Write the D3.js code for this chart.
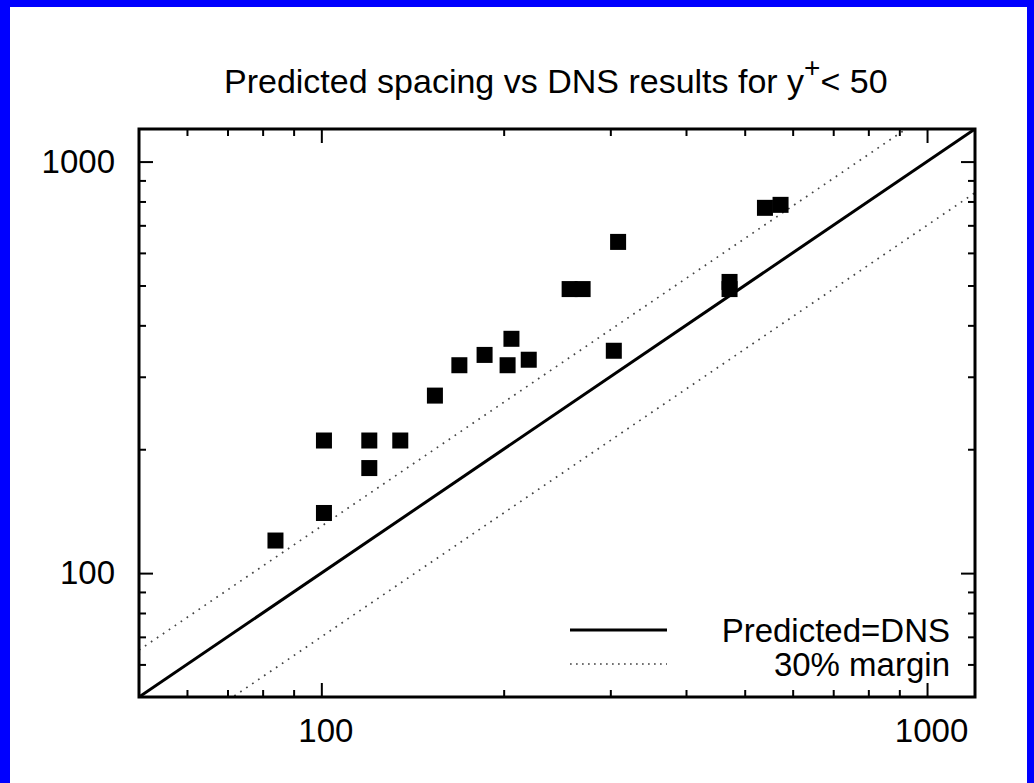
<!DOCTYPE html>
<html>
<head>
<meta charset="utf-8">
<script src="https://cdn.jsdelivr.net/npm/d3@7"></script>
<style>
  body { margin: 0; background: #fff; }
  svg { display: block; }
</style>
</head>
<body>
<div id="chart"></div>
<script>
// DNS spacing (x) against predicted spacing (y), y+ < 50
const dnsSpacing = [84, 101, 101, 120, 120, 135, 154, 169, 186, 203, 206, 220, 257, 270, 304, 309, 472, 472, 540, 573];
const predictedSpacing = [120, 140, 210, 210, 180, 210, 270, 320, 339, 320, 371, 330, 490, 490, 347, 638, 510, 490, 772, 785];

const majorTicks = [100, 1000];
const minorTicks = [60, 70, 80, 90, 200, 300, 400, 500, 600, 700, 800, 900];

// reference lines: predicted = factor * DNS
const refFactors = [1, 1.3, 0.7];
const legendLabels = ["Predicted=DNS", "30% margin"];

const width = 1034, height = 783;
const margin = {top: 129, right: 59, bottom: 86, left: 139};
const font = "'Liberation Sans', Arial, sans-serif";

const svg = d3.select("#chart").append("svg")
    .attr("width", width)
    .attr("height", height)
    .attr("font-family", font);

// blue page frame
svg.append("rect").attr("width", width).attr("height", height).attr("fill", "#0000ff");
svg.append("rect")
    .attr("x", 10).attr("y", 7)
    .attr("width", width - 17).attr("height", height - 7)
    .attr("fill", "#fff");

const x = d3.scaleLog()
    .domain([50, 1200])
    .range([margin.left, width - margin.right]);

const y = d3.scaleLog()
    .domain([50, 1200])
    .range([height - margin.bottom, margin.top]);

svg.append("clipPath").attr("id", "plot-clip")
  .append("rect")
    .attr("x", x.range()[0]).attr("y", y.range()[1])
    .attr("width", x.range()[1] - x.range()[0])
    .attr("height", y.range()[0] - y.range()[1]);

// reference lines
const [d0, d1] = x.domain();
const line = d3.line().x(d => x(d[0])).y(d => y(d[1]));

svg.append("g")
    .attr("clip-path", "url(#plot-clip)")
  .selectAll("path")
  .data(refFactors)
  .join("path")
    .attr("d", f => line([[d0, d0 * f], [d1, d1 * f]]))
    .attr("fill", "none")
    .attr("stroke", f => f === 1 ? "#000" : "#444")
    .attr("stroke-width", f => f === 1 ? 3 : 1.7)
    .attr("stroke-dasharray", f => f === 1 ? null : "1.7,5.5");

// data points
const sz = 16;
svg.append("g")
  .selectAll("rect")
  .data(dnsSpacing)
  .join("rect")
    .attr("x", (d, i) => x(d) - sz / 2)
    .attr("y", (d, i) => y(predictedSpacing[i]) - sz / 2)
    .attr("width", sz)
    .attr("height", sz)
    .attr("fill", "#000");

// axes: ticks on all four sides, pointing inward
function styleAxis(g) {
  g.select(".domain").remove();
  g.selectAll(".tick line").attr("stroke-width", 2);
  g.selectAll(".tick text").attr("font-size", 33).attr("fill", "#000").attr("font-family", font);
}

const plotW = x.range()[1] - x.range()[0];
const plotH = y.range()[0] - y.range()[1];

svg.append("g")
    .attr("transform", `translate(0,${y.range()[0]})`)
    .call(d3.axisBottom(x).tickValues(majorTicks).tickSize(-14).tickPadding(22).tickFormat(d3.format("d")))
    .call(styleAxis)
    .call(g => g.selectAll(".tick text").attr("dx", 4));
svg.append("g")
    .attr("transform", `translate(0,${y.range()[0]})`)
    .call(d3.axisBottom(x).tickValues(minorTicks).tickSize(-7).tickFormat(""))
    .call(styleAxis);
svg.append("g")
    .attr("transform", `translate(0,${y.range()[1]})`)
    .call(d3.axisTop(x).tickValues(majorTicks).tickSize(-14).tickFormat(""))
    .call(styleAxis);
svg.append("g")
    .attr("transform", `translate(0,${y.range()[1]})`)
    .call(d3.axisTop(x).tickValues(minorTicks).tickSize(-7).tickFormat(""))
    .call(styleAxis);

svg.append("g")
    .attr("transform", `translate(${x.range()[0]},0)`)
    .call(d3.axisLeft(y).tickValues(majorTicks).tickSize(-14).tickPadding(24).tickFormat(d3.format("d")))
    .call(styleAxis);
svg.append("g")
    .attr("transform", `translate(${x.range()[0]},0)`)
    .call(d3.axisLeft(y).tickValues(minorTicks).tickSize(-7).tickFormat(""))
    .call(styleAxis);
svg.append("g")
    .attr("transform", `translate(${x.range()[1]},0)`)
    .call(d3.axisRight(y).tickValues(majorTicks).tickSize(-14).tickFormat(""))
    .call(styleAxis);
svg.append("g")
    .attr("transform", `translate(${x.range()[1]},0)`)
    .call(d3.axisRight(y).tickValues(minorTicks).tickSize(-7).tickFormat(""))
    .call(styleAxis);

// frame
svg.append("rect")
    .attr("x", x.range()[0]).attr("y", y.range()[1])
    .attr("width", plotW).attr("height", plotH)
    .attr("fill", "none")
    .attr("stroke", "#000")
    .attr("stroke-width", 3);

// title
const title = svg.append("text")
    .attr("x", 224)
    .attr("y", 93)
    .attr("font-size", 34)
    .attr("fill", "#000");
title.append("tspan").text("Predicted spacing vs DNS results for y");
title.append("tspan").attr("dy", -16).attr("font-size", 28).text("+");
title.append("tspan").attr("dy", 16).text("< 50");

// legend
const legend = svg.append("g");
legendLabels.forEach((lab, i) => {
  const ly = 630 + i * 34;
  legend.append("line")
      .attr("x1", 570).attr("x2", 667)
      .attr("y1", ly).attr("y2", ly)
      .attr("stroke", i === 0 ? "#000" : "#444")
      .attr("stroke-width", i === 0 ? 3 : 1.7)
      .attr("stroke-dasharray", i === 0 ? null : "1.7,4.3");
  legend.append("text")
      .attr("x", 950)
      .attr("y", ly + 11.5)
      .attr("text-anchor", "end")
      .attr("font-size", 33)
      .attr("fill", "#000")
      .text(lab);
});
</script>
</body>
</html>
